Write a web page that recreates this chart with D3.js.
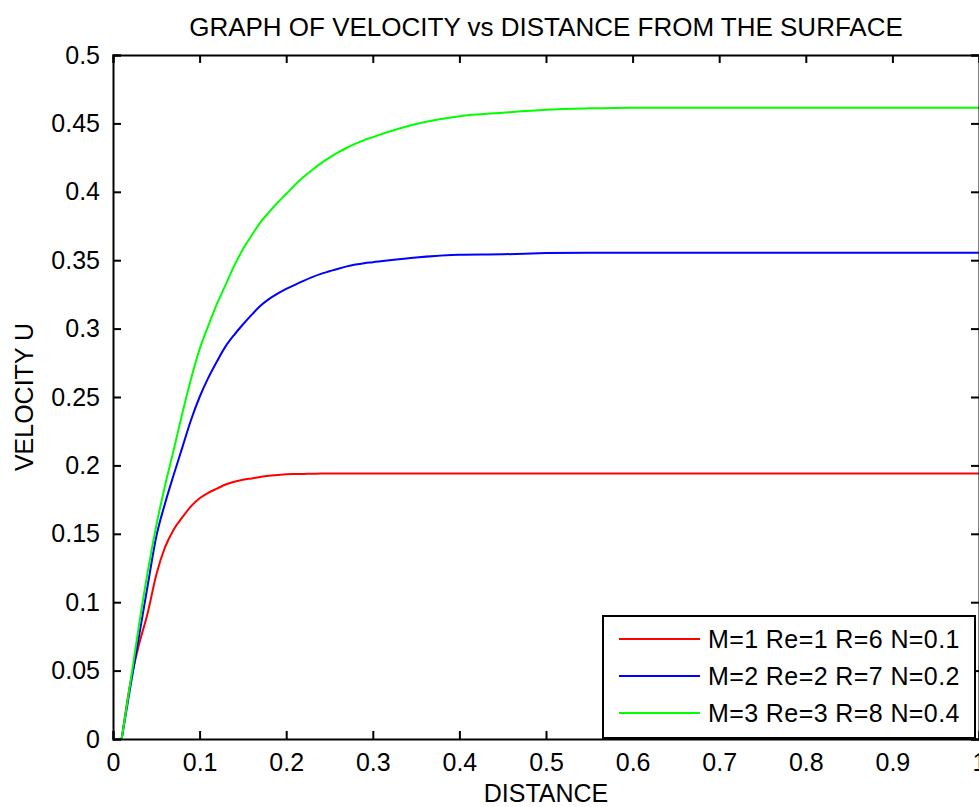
<!DOCTYPE html>
<html>
<head>
<meta charset="utf-8">
<script src="https://cdn.jsdelivr.net/npm/d3@7"></script>
<style>
  html, body { margin: 0; padding: 0; background: #fff; }
  svg { display: block; }
  text { font-family: "Liberation Sans", Arial, sans-serif; fill: #000; }
</style>
</head>
<body>
<svg id="chart" width="979" height="807"></svg>
<script>
// distance samples shared by all three runs
const distance = [0.01,0.02,0.03,0.04,0.05,0.06,0.07,0.08,0.09,0.10,
  0.11,0.12,0.13,0.14,0.15,0.16,0.17,0.18,0.19,0.20,
  0.21,0.22,0.23,0.24,0.25,0.26,0.27,0.28,0.29,0.30,
  0.35,0.40,0.45,0.50,0.55,0.60,0.65,0.70,0.75,0.80,0.85,0.90,0.95,1.00];

const velRed = [0,0.041,0.069,0.092,0.120,0.140,0.153,0.162,0.170,0.176,
  0.180,0.183,0.186,0.188,0.1895,0.1905,0.1915,0.1925,0.193,0.1935,
  0.1937,0.1938,0.1939,0.194,0.194,0.194,0.194,0.194,0.194,0.194,
  0.194,0.194,0.194,0.194,0.194,0.194,0.194,0.194,0.194,0.194,0.194,0.194,0.194,0.194];

const velBlue = [0,0.038,0.075,0.112,0.148,0.172,0.193,0.213,0.233,0.250,
  0.264,0.276,0.287,0.2955,0.303,0.310,0.3165,0.3215,0.3255,0.329,
  0.332,0.3349,0.3376,0.340,0.3419,0.3438,0.3455,0.3468,0.3478,0.3485,
  0.352,0.354,0.3543,0.3552,0.3555,0.3555,0.3555,0.3555,0.3555,0.3555,0.3555,0.3555,0.3555,0.3555];

const velGreen = [0,0.041,0.083,0.122,0.156,0.185,0.211,0.238,0.263,0.285,
  0.302,0.318,0.332,0.346,0.358,0.368,0.3775,0.385,0.392,0.3984,
  0.405,0.4108,0.416,0.4208,0.4250,0.4288,0.4322,0.4352,0.4378,0.4400,
  0.4495,0.4552,0.4578,0.4600,0.461,0.4615,0.4615,0.4615,0.4615,0.4615,0.4615,0.4615,0.4615,0.4615];

const seriesNames = ['M=1 Re=1 R=6 N=0.1', 'M=2 Re=2 R=7 N=0.2', 'M=3 Re=3 R=8 N=0.4'];
const seriesColors = ['#ff0000', '#0000ff', '#00ff00'];
const xTicks = [0,0.1,0.2,0.3,0.4,0.5,0.6,0.7,0.8,0.9,1];
const yTicks = [0,0.05,0.1,0.15,0.2,0.25,0.3,0.35,0.4,0.45,0.5];

const series = [velRed, velBlue, velGreen].map((v, i) => ({
  name: seriesNames[i], color: seriesColors[i],
  pts: distance.map((d, j) => [d, v[j]])
}));

const svg = d3.select('#chart');
const L = 113, R = 979, T = 55, B = 739;
const x = d3.scaleLinear().domain([0, 1]).range([L, R]);
const y = d3.scaleLinear().domain([0, 0.5]).range([B, T]);
const FS = 25, TK = 8;

// curves first, axes box on top
const line = d3.line().curve(d3.curveMonotoneX).x(d => x(d[0])).y(d => y(d[1]));
series.forEach(s => {
  svg.append('path').datum(s.pts).attr('d', line)
    .attr('fill', 'none').attr('stroke', s.color).attr('stroke-width', 2);
});

// axes (MATLAB style: ticks inside, box all round)
const fmt = d => d === 0 ? '0' : String(d);
const ax = svg.append('g').attr('class', 'axes');
ax.append('g').attr('transform', `translate(0,${B})`)
  .call(d3.axisBottom(x).tickValues(xTicks).tickSize(-TK).tickPadding(14).tickFormat(fmt));
ax.append('g').attr('transform', `translate(0,${T})`)
  .call(d3.axisTop(x).tickValues(xTicks).tickSize(-TK).tickFormat(''));
ax.append('g').attr('transform', `translate(${L},0)`)
  .call(d3.axisLeft(y).tickValues(yTicks).tickSize(-TK).tickPadding(13).tickFormat(fmt));
ax.append('g').attr('transform', `translate(${R},0)`)
  .call(d3.axisRight(y).tickValues(yTicks).tickSize(-TK).tickFormat(''));
ax.selectAll('path.domain').attr('stroke', '#000').attr('stroke-width', 2);
ax.selectAll('.tick line').attr('stroke', '#000').attr('stroke-width', 2);
ax.selectAll('.tick text').attr('font-size', FS).attr('font-family', '"Liberation Sans", Arial, sans-serif').attr('fill', '#000');

// titles
svg.append('text').attr('x', (L + R) / 2).attr('y', 36).attr('text-anchor', 'middle')
  .attr('font-size', 26).text('GRAPH OF VELOCITY vs DISTANCE FROM THE SURFACE');
svg.append('text').attr('x', (L + R) / 2).attr('y', 802).attr('text-anchor', 'middle')
  .attr('font-size', FS).text('DISTANCE');
svg.append('text').attr('transform', `translate(33,${(T + B) / 2}) rotate(-90)`)
  .attr('text-anchor', 'middle').attr('font-size', FS).text('VELOCITY U');

// legend (southeast)
const lg = svg.append('g').attr('transform', 'translate(603,616)');
lg.append('rect').attr('width', 372).attr('height', 122)
  .attr('fill', '#fff').attr('stroke', '#000').attr('stroke-width', 2);
series.forEach((s, i) => {
  const yy = 23 + i * 37;
  lg.append('line').attr('x1', 16).attr('x2', 97).attr('y1', yy).attr('y2', yy)
    .attr('stroke', s.color).attr('stroke-width', 2);
  lg.append('text').attr('x', 105).attr('y', yy + 9).attr('font-size', FS)
    .attr('letter-spacing', 0.4).text(s.name);
});
</script>
</body>
</html>
